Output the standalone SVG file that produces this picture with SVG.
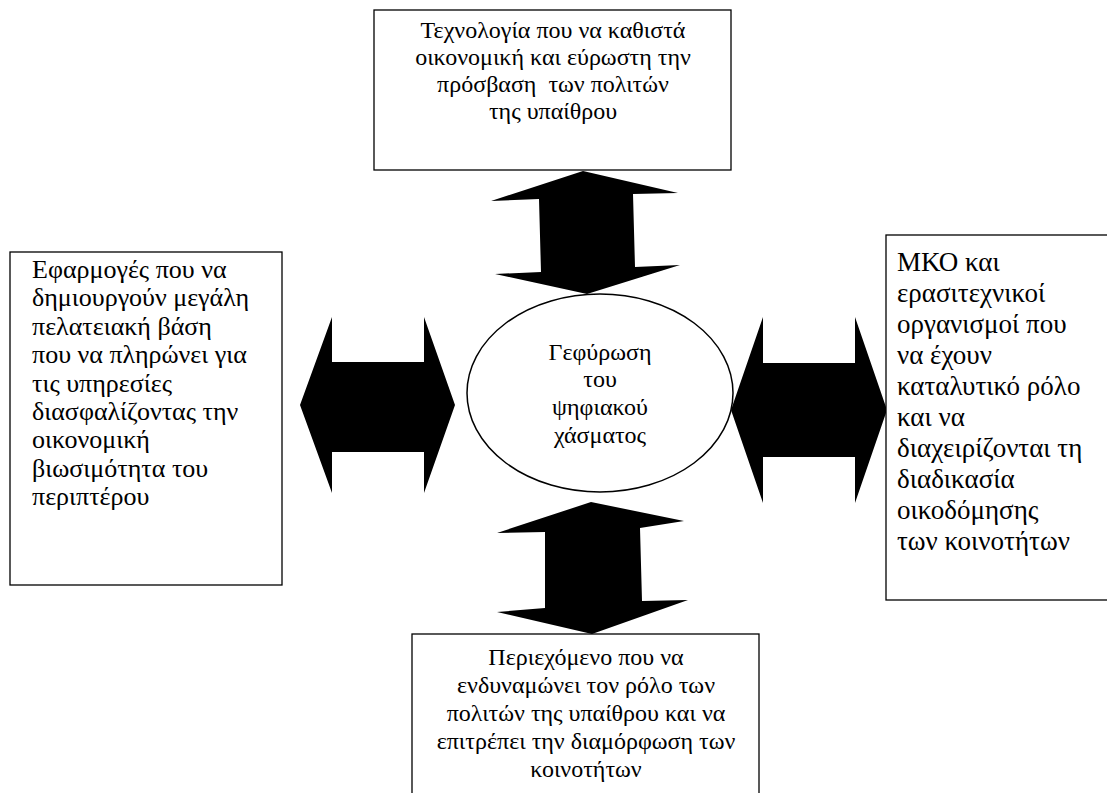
<svg xmlns="http://www.w3.org/2000/svg" width="1107" height="793" viewBox="0 0 1107 793">
<style>
.box{fill:#fff;stroke:#000;stroke-width:1.3}
.arrow{fill:#000;stroke:none}
.ell{fill:#fff;stroke:#000;stroke-width:1.5}
text{font-family:"Liberation Serif","Times New Roman",serif;font-size:24px;fill:#000}
.c{text-anchor:middle}
#left text{font-size:26px}
#right text{font-size:27px}
</style>
<rect width="1107" height="793" fill="#fff"/>
<g id="connectors">
<polygon class="arrow" points="583,171 678,193 633,194 635,267 680,265 587,294 495,274 541,272 539,199 491,201"/>
<polygon class="arrow" points="591,502 684,521 640,528 642,601 688,600 592,634 497,612 545,608 545,532 497,533"/>
<polygon class="arrow" points="300,405 332,317 332,362 424,362 424,317 455,405 424,493 424,452 332,452 332,493"/>
<polygon class="arrow" points="731,410 763,317 763,363 855,363 855,317 887,410 855,503 855,457 763,457 763,503"/>
</g>
<g id="top">
<rect class="box" x="374" y="10" width="357" height="160"/>
<text class="c" x="553" y="38">Τεχνολογία που να καθιστά</text>
<text class="c" x="553" y="65">οικονομική και εύρωστη την</text>
<text class="c" x="553" y="92" xml:space="preserve">πρόσβαση  των πολιτών</text>
<text class="c" x="553" y="119">της υπαίθρου</text>
</g>
<g id="center">
<ellipse class="ell" cx="600" cy="393" rx="133" ry="99"/>
<text class="c" x="600" y="360">Γεφύρωση</text>
<text class="c" x="600" y="387">του</text>
<text class="c" x="600" y="415">ψηφιακού</text>
<text class="c" x="600" y="443">χάσματος</text>
</g>
<g id="left">
<rect class="box" x="10" y="252" width="272" height="333"/>
<text x="32" y="278">Εφαρμογές που να</text>
<text x="32" y="306">δημιουργούν μεγάλη</text>
<text x="32" y="335">πελατειακή βάση</text>
<text x="32" y="363">που να πληρώνει για</text>
<text x="32" y="392">τις υπηρεσίες</text>
<text x="32" y="420">διασφαλίζοντας την</text>
<text x="32" y="448">οικονομική</text>
<text x="32" y="477">βιωσιμότητα του</text>
<text x="32" y="505">περιπτέρου</text>
</g>
<g id="right">
<rect class="box" x="886" y="235" width="230" height="365"/>
<text x="897" y="271">ΜΚΟ και</text>
<text x="897" y="302">ερασιτεχνικοί</text>
<text x="897" y="333">οργανισμοί που</text>
<text x="897" y="364">να έχουν</text>
<text x="897" y="395">καταλυτικό ρόλο</text>
<text x="897" y="426">και να</text>
<text x="897" y="457">διαχειρίζονται τη</text>
<text x="897" y="488">διαδικασία</text>
<text x="897" y="519">οικοδόμησης</text>
<text x="897" y="550">των κοινοτήτων</text>
</g>
<g id="bottom">
<rect class="box" x="412" y="634" width="347" height="170"/>
<text class="c" x="586" y="665">Περιεχόμενο που να</text>
<text class="c" x="586" y="693">ενδυναμώνει τον ρόλο των</text>
<text class="c" x="586" y="721">πολιτών της υπαίθρου και να</text>
<text class="c" x="586" y="749">επιτρέπει την διαμόρφωση των</text>
<text class="c" x="586" y="777">κοινοτήτων</text>
</g>
</svg>
